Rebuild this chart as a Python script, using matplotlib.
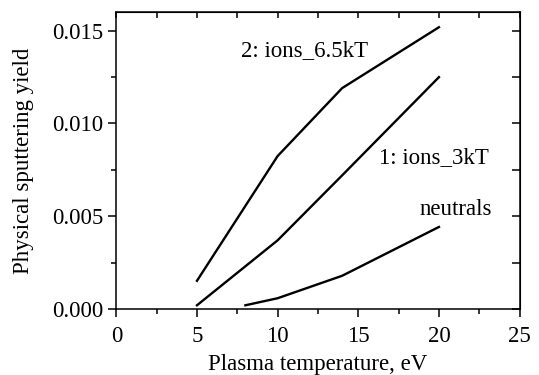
import matplotlib
matplotlib.use("Agg")
import matplotlib.pyplot as plt
from matplotlib.ticker import MultipleLocator

plt.rcParams['font.family'] = ['Liberation Serif', 'DejaVu Serif']
plt.rcParams['font.size'] = 16.5

# data
t_ions65 = [5, 10, 14, 20]
y_ions65 = [0.00152, 0.00824, 0.0119, 0.01518]
t_ions3 = [5, 10, 14, 20]
y_ions3 = [0.0002, 0.0037, 0.0072, 0.01249]
t_neut = [8, 10, 14, 20]
y_neut = [0.0002, 0.00058, 0.00179, 0.00442]

fig = plt.figure(figsize=(5.39, 3.75), dpi=100)
ax = fig.add_axes([0.2158, 0.176, 0.7482, 0.792])

ax.plot(t_ions65, y_ions65, color='black', lw=1.7)
ax.plot(t_ions3, y_ions3, color='black', lw=1.7)
ax.plot(t_neut, y_neut, color='black', lw=1.7)

ax.text(7.7, 0.01395, '2: ions_6.5kT', va='center', ha='left')
ax.text(16.3, 0.00817, '1: ions_3kT', va='center', ha='left')
ax.text(18.8, 0.00538, 'neutrals', va='center', ha='left')

ax.set_xlim(0, 25)
ax.set_ylim(0, 0.016)
ax.xaxis.set_major_locator(MultipleLocator(5))
ax.xaxis.set_minor_locator(MultipleLocator(2.5))
ax.yaxis.set_major_locator(MultipleLocator(0.005))
ax.yaxis.set_minor_locator(MultipleLocator(0.0025))
ax.yaxis.set_major_formatter(matplotlib.ticker.FormatStrFormatter('%.3f'))

for s in ax.spines.values():
    s.set_linewidth(1.1)

ax.tick_params(which='both', direction='out', width=1.1, top=False, right=False)
ax.tick_params(which='major', length=6)
ax.tick_params(which='minor', length=3.5)
ax.tick_params(axis='x', pad=6)

# inward ticks on top and right
axt = ax.secondary_xaxis('top')
axt.xaxis.set_major_locator(MultipleLocator(2.5))
axt.tick_params(direction='in', length=4.5, width=1.1, labeltop=False)
axr = ax.secondary_yaxis('right')
axr.yaxis.set_major_locator(MultipleLocator(0.0025))
axr.tick_params(direction='in', length=6, width=1.1, labelright=False)

ax.set_xlabel('Plasma temperature, eV', labelpad=5)
ax.set_ylabel('Physical sputtering yield', labelpad=13)

fig.savefig('out.png', dpi=100)
